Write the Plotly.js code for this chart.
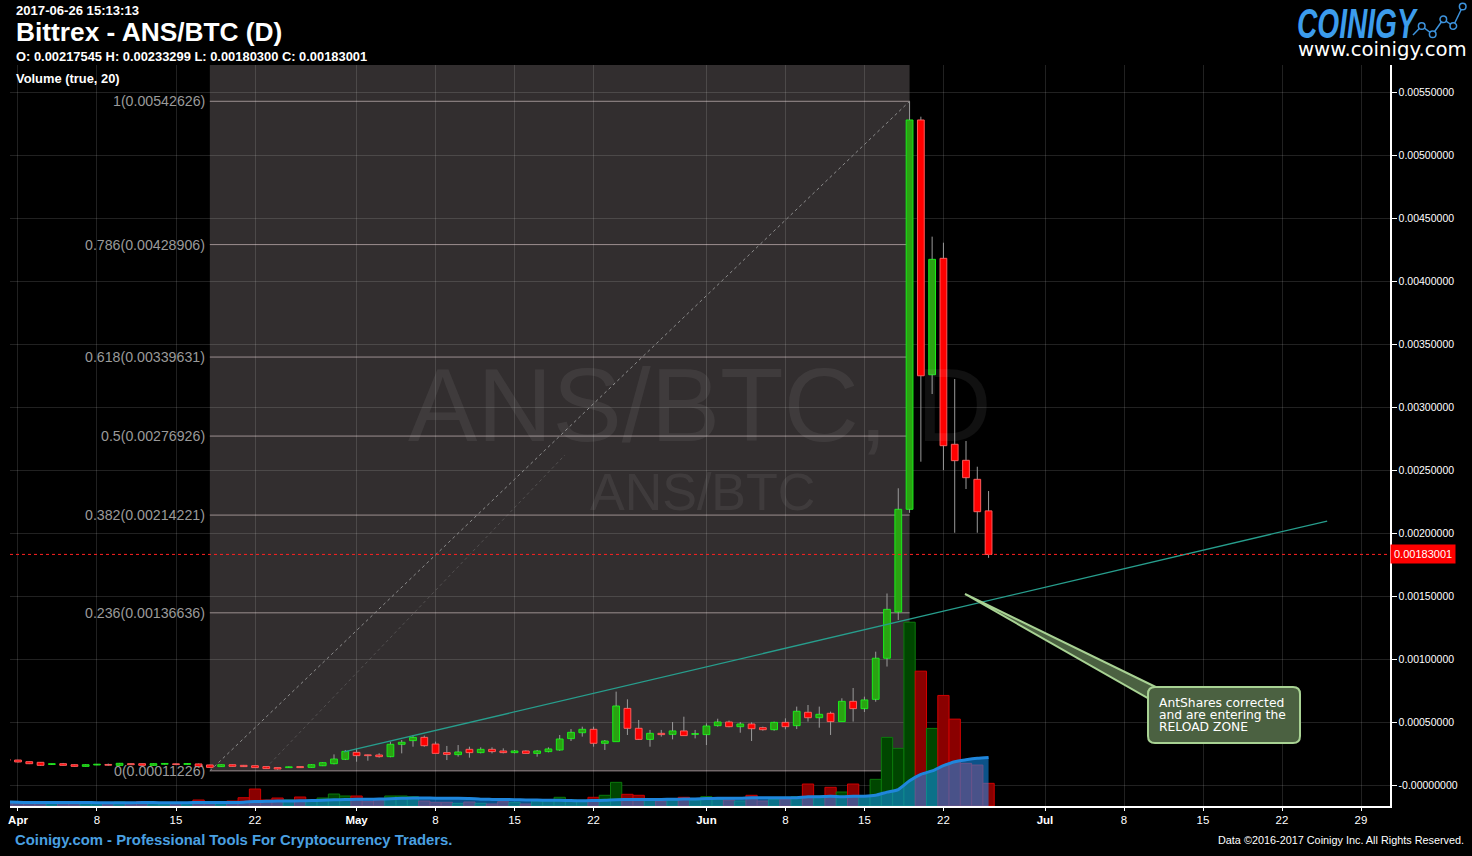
<!DOCTYPE html>
<html><head><meta charset="utf-8">
<script src="https://cdn.plot.ly/plotly-3.0.1.min.js"></script>
<style>html,body{margin:0;padding:0;background:#000;overflow:hidden}#chart{width:1472px;height:856px}</style>
</head><body><div id="chart"></div>
<script>
// ---------------- DATA ----------------
const dates = ['2017-03-31',
 '2017-04-01','2017-04-02','2017-04-03','2017-04-04','2017-04-05','2017-04-06','2017-04-07','2017-04-08','2017-04-09','2017-04-10',
 '2017-04-11','2017-04-12','2017-04-13','2017-04-14','2017-04-15','2017-04-16','2017-04-17','2017-04-18','2017-04-19','2017-04-20',
 '2017-04-21','2017-04-22','2017-04-23','2017-04-24','2017-04-25','2017-04-26','2017-04-27','2017-04-28','2017-04-29','2017-04-30',
 '2017-05-01','2017-05-02','2017-05-03','2017-05-04','2017-05-05','2017-05-06','2017-05-07','2017-05-08','2017-05-09','2017-05-10',
 '2017-05-11','2017-05-12','2017-05-13','2017-05-14','2017-05-15','2017-05-16','2017-05-17','2017-05-18','2017-05-19','2017-05-20',
 '2017-05-21','2017-05-22','2017-05-23','2017-05-24','2017-05-25','2017-05-26','2017-05-27','2017-05-28','2017-05-29','2017-05-30','2017-05-31',
 '2017-06-01','2017-06-02','2017-06-03','2017-06-04','2017-06-05','2017-06-06','2017-06-07','2017-06-08','2017-06-09','2017-06-10',
 '2017-06-11','2017-06-12','2017-06-13','2017-06-14','2017-06-15','2017-06-16','2017-06-17','2017-06-18','2017-06-19','2017-06-20',
 '2017-06-21','2017-06-22','2017-06-23','2017-06-24','2017-06-25','2017-06-26'];

const openP = [0.000204,
 0.000198,0.000185,0.000180,0.000163,0.000169,0.000161,0.000148,0.000159,0.000161,0.000156,
 0.000169,0.000169,0.000156,0.000165,0.000167,0.000164,0.000167,0.000159,0.000146,0.000161,
 0.000156,0.000153,0.000146,0.000138,0.000138,0.000146,0.000140,0.000153,0.000169,0.000204,
 0.000259,0.000238,0.000238,0.000225,0.000323,0.000352,0.000378,0.000325,0.000257,0.000241,
 0.000283,0.000257,0.000283,0.000270,0.000257,0.000270,0.000251,0.000265,0.000278,0.000368,
 0.000415,0.000442,0.000331,0.000344,0.000608,0.000450,0.000362,0.000410,0.000402,0.000429,0.000402,
 0.000400,0.000471,0.000500,0.000463,0.000484,0.000455,0.000439,0.000497,0.000471,0.000577,
 0.000534,0.000569,0.000503,0.000664,0.000606,0.000680,0.001006,0.001373,0.002188,0.005278,
 0.003256,0.004180,0.002704,0.002577,0.002426,0.00217545];

const highP = [0.000206,
 0.000200,0.000188,0.000182,0.000168,0.000175,0.000164,0.000164,0.000166,0.000170,0.000175,
 0.000172,0.000171,0.000171,0.000169,0.000170,0.000169,0.000170,0.000161,0.000164,0.000163,
 0.000159,0.000156,0.000148,0.000140,0.000146,0.000148,0.000164,0.000180,0.000243,0.000278,
 0.000291,0.000241,0.000252,0.000344,0.000357,0.000397,0.000392,0.000344,0.000310,0.000317,
 0.000304,0.000299,0.000299,0.000291,0.000278,0.000275,0.000278,0.000299,0.000397,0.000444,
 0.000463,0.000463,0.000357,0.000741,0.000680,0.000516,0.000437,0.000437,0.000500,0.000542,0.000437,
 0.000489,0.000526,0.000511,0.000500,0.000497,0.000463,0.000503,0.000529,0.000622,0.000635,
 0.000622,0.000582,0.000688,0.000770,0.000701,0.001058,0.001520,0.002355,0.005426,0.005304,
 0.004352,0.004304,0.003222,0.002730,0.002526,0.00233299];

const lowP = [0.000190,
 0.000178,0.000166,0.000152,0.000160,0.000153,0.000145,0.000146,0.000157,0.000153,0.000154,
 0.000158,0.000153,0.000154,0.000162,0.000158,0.000161,0.000143,0.000137,0.000143,0.000145,
 0.000143,0.000135,0.000127,0.000122,0.000135,0.000135,0.000138,0.000150,0.000164,0.000198,
 0.000185,0.000193,0.000217,0.000220,0.000251,0.000304,0.000304,0.000251,0.000198,0.000225,
 0.000217,0.000251,0.000251,0.000251,0.000251,0.000249,0.000225,0.000259,0.000272,0.000349,
 0.000384,0.000304,0.000278,0.000344,0.000397,0.000357,0.000304,0.000384,0.000362,0.000392,0.000370,
 0.000317,0.000463,0.000458,0.000415,0.000349,0.000431,0.000431,0.000442,0.000444,0.000503,
 0.000455,0.000397,0.000503,0.000503,0.000579,0.000661,0.000940,0.001310,0.002160,0.002566,
 0.003103,0.002500,0.002002,0.002349,0.002002,0.00180300];

const closeP = [0.000195,
 0.000183,0.000169,0.000156,0.000165,0.000156,0.000148,0.000161,0.000161,0.000157,0.000172,
 0.000161,0.000156,0.000169,0.000167,0.000162,0.000167,0.000146,0.000140,0.000161,0.000148,
 0.000146,0.000138,0.000130,0.000127,0.000143,0.000138,0.000161,0.000177,0.000206,0.000267,
 0.000233,0.000233,0.000225,0.000323,0.000339,0.000378,0.000312,0.000251,0.000243,0.000262,
 0.000257,0.000283,0.000265,0.000257,0.000270,0.000251,0.000270,0.000286,0.000365,0.000418,
 0.000442,0.000331,0.000349,0.000627,0.000450,0.000362,0.000410,0.000400,0.000429,0.000392,0.000405,
 0.000468,0.000500,0.000463,0.000484,0.000447,0.000439,0.000497,0.000463,0.000585,0.000534,
 0.000561,0.000503,0.000664,0.000606,0.000675,0.001006,0.001394,0.002188,0.005278,0.003248,
 0.004172,0.002693,0.002574,0.002439,0.002169,0.00183001];

const volume = [4,
 3.5,3,3.5,3,4,3.5,3,2.5,3,4,
 3,4.5,3,2.5,3,3.5,6,4,4,5,
 8.3,17,6,8,6,9,6,8,12,10,
 10,4.3,6,10,10,9.3,5,3.7,3.7,2.7,
 4,2.7,2,4.3,3.7,2,5,6,8.7,6,
 5,8.7,10.7,23.7,11.7,10.7,6,5,6,8.7,6,
 9.3,6.7,6,5,10.7,5,6.7,6.7,9.3,22,
 10,18.7,14,22,10,26.7,68.7,57.7,184,135,
 77.7,110.7,87,42.7,41,22.7];

const volMaPeriod = 20;

// Fibonacci retracement drawing
const fibStart = '2017-04-18';
const fibEnd = '2017-06-19';
const fibLow = 0.00011226;
const fibHigh = 0.00542626;
const fibRatios = [1, 0.786, 0.618, 0.5, 0.382, 0.236, 0];
const fibRatioLabels = ['1', '0.786', '0.618', '0.5', '0.382', '0.236', '0'];

// secondary faint fib diagonal
const fib2X = ['2017-04-22 23:00', '2017-05-19 11:00'];
const fib2Y = [0.000135, 0.002619];

// teal trend line
const trendX = ['2017-04-29 21:00', '2017-07-26 00:00'];
const trendY = [0.000262, 0.002095];

// last price
const lastPrice = 0.00183001;

// axes
const xRange = ['2017-03-31 07:00', '2017-07-31 13:40'];
const yRange = [-0.0001667, 0.0057143];
const yTicks = [0, 0.0005, 0.001, 0.0015, 0.002, 0.0025, 0.003, 0.0035, 0.004, 0.0045, 0.005, 0.0055];
const xTickVals = ['2017-04-01','2017-04-08','2017-04-15','2017-04-22','2017-05-01','2017-05-08','2017-05-15','2017-05-22',
  '2017-06-01','2017-06-08','2017-06-15','2017-06-22','2017-07-01','2017-07-08','2017-07-15','2017-07-22','2017-07-29'];
const xTickText = ['<b>Apr</b>','8','15','22','<b>May</b>','8','15','22','<b>Jun</b>','8','15','22','<b>Jul</b>','8','15','22','29'];

// ---------------- BUILD ----------------
const DAY = 86400000;
const n = dates.length;
const up = closeP.map((c, i) => c >= openP[i]);

// volume MA
const volMa = volume.map((v, i) => {
  const s = Math.max(0, i - volMaPeriod + 1);
  const w = volume.slice(s, i + 1);
  return w.reduce((a, b) => a + b, 0) / w.length;
});
const volTopFrac = 0.248;
const volMax = Math.max(...volume) / volTopFrac;

// wicks
const wx = [], wy = [];
for (let i = 0; i < n; i++) {
  const bl = Math.min(openP[i], closeP[i]), bh = Math.max(openP[i], closeP[i]);
  wx.push(dates[i], dates[i], null, dates[i], dates[i], null);
  wy.push(lowP[i], bl, null, bh, highP[i], null);
}
const minBody = 0.000006;
const bodyBase = openP.map((o, i) => Math.min(o, closeP[i]));
const bodyLen = openP.map((o, i) => Math.max(Math.abs(closeP[i] - o), minBody));

const traces = [
  { type: 'bar', x: dates, y: volume, yaxis: 'y', xaxis: 'x', width: DAY,
    marker: { color: up.map(u => u ? '#004600' : '#8a0000'),
              line: { color: up.map(u => u ? '#0b7a0b' : '#d00000'), width: 1 } },
    hoverinfo: 'skip' },
  { type: 'scatter', mode: 'lines', x: dates, y: volMa, yaxis: 'y', xaxis: 'x',
    fill: 'tozeroy', fillcolor: 'rgba(20,150,250,0.55)',
    line: { color: '#1f86dc', width: 3, shape: 'spline', smoothing: 0.6 }, hoverinfo: 'skip' },
  { type: 'scatter', mode: 'lines', x: wx, y: wy, yaxis: 'y2', xaxis: 'x',
    line: { color: '#9a9a9a', width: 1 }, hoverinfo: 'skip', connectgaps: false },
  { type: 'bar', x: dates, y: bodyLen, base: bodyBase, yaxis: 'y2', xaxis: 'x', width: DAY * 0.6,
    marker: { color: up.map(u => u ? '#2aa312' : '#ff0000'),
              line: { color: up.map(u => u ? '#19ee19' : '#ff5a5a'), width: 1 } },
    hoverinfo: 'skip' },
  { type: 'scatter', mode: 'lines', x: [fibStart, fibEnd], y: [fibLow, fibHigh], yaxis: 'y2', xaxis: 'x',
    line: { color: '#8c8c8c', width: 1, dash: 'dot' }, hoverinfo: 'skip' },
  { type: 'scatter', mode: 'lines', x: fib2X, y: fib2Y, yaxis: 'y2', xaxis: 'x',
    line: { color: 'rgba(140,140,140,0.35)', width: 1, dash: 'dot' }, hoverinfo: 'skip' },
  { type: 'scatter', mode: 'lines', x: trendX, y: trendY, yaxis: 'y2', xaxis: 'x',
    line: { color: '#279e8d', width: 1.3 }, hoverinfo: 'skip' }
];

// pixel -> paper helpers (plot area: x 10..1390, y 65..806)
const PL = 10, PR = 1390, PT = 65, PB = 806;
const px = v => (v - PL) / (PR - PL);
const py = v => (PB - v) / (PB - PT);

const shapes = [];
shapes.push({ type: 'rect', xref: 'x', yref: 'y2', x0: fibStart, x1: fibEnd, y0: fibLow, y1: yRange[1],
  fillcolor: '#322e2f', line: { width: 0 }, layer: 'below' });
const fibLevels = fibRatios.map(r => fibLow + r * (fibHigh - fibLow));
fibLevels.forEach(l => shapes.push({ type: 'line', xref: 'x', yref: 'y2', x0: fibStart, x1: fibEnd, y0: l, y1: l,
  line: { color: '#9c8f90', width: 1 }, layer: 'below' }));
shapes.push({ type: 'line', xref: 'paper', yref: 'y2', x0: 0, x1: 1, y0: lastPrice, y1: lastPrice,
  line: { color: '#ff2020', width: 1, dash: 'dot' } });

function pathFrom(pts) { return 'M' + pts.map(p => px(p[0]) + ',' + py(p[1])).join(' L') + ' Z'; }
shapes.push({ type: 'path', xref: 'paper', yref: 'paper',
  path: pathFrom([[965, 594], [1166, 692], [1153, 701]]),
  fillcolor: '#4b6141', line: { color: '#a8d293', width: 2 } });
function roundRect(x0, y0, x1, y1, r) {
  const P = (a, b) => px(a) + ',' + py(b);
  return 'M' + P(x0 + r, y0) + ' L' + P(x1 - r, y0) + ' Q' + P(x1, y0) + ' ' + P(x1, y0 + r) +
    ' L' + P(x1, y1 - r) + ' Q' + P(x1, y1) + ' ' + P(x1 - r, y1) +
    ' L' + P(x0 + r, y1) + ' Q' + P(x0, y1) + ' ' + P(x0, y1 - r) +
    ' L' + P(x0, y0 + r) + ' Q' + P(x0, y0) + ' ' + P(x0 + r, y0) + ' Z';
}
shapes.push({ type: 'path', xref: 'paper', yref: 'paper', path: roundRect(1148, 687, 1300, 743, 7),
  fillcolor: '#4b6141', line: { color: '#a8d293', width: 2 } });
shapes.push({ type: 'path', xref: 'paper', yref: 'paper', path: roundRect(1150, 689, 1298, 741, 6),
  fillcolor: '#4b6141', line: { width: 0 } });

const logoPts = [[1413, 35], [1421.7, 26], [1432.7, 34.3], [1443.3, 19.3], [1453.3, 26], [1462.7, 6.5]];
for (let i = 0; i < logoPts.length - 1; i++) {
  shapes.push({ type: 'line', xref: 'paper', yref: 'paper',
    x0: px(logoPts[i][0]), y0: py(logoPts[i][1]), x1: px(logoPts[i + 1][0]), y1: py(logoPts[i + 1][1]),
    line: { color: '#3d93dd', width: 1.5 } });
}
logoPts.slice(1).forEach(p => shapes.push({ type: 'circle', xref: 'paper', yref: 'paper',
  x0: px(p[0] - 3.3), x1: px(p[0] + 3.3), y0: py(p[1] + 3.3), y1: py(p[1] - 3.3),
  fillcolor: '#000', line: { color: '#3d93dd', width: 1.5 } }));

const fmt8 = v => v.toFixed(8);
const annotations = [];
fibLevels.forEach((l, i) => annotations.push({ xref: 'x', yref: 'y2', x: fibStart, y: l, xanchor: 'right', yanchor: 'middle',
  xshift: -3, showarrow: false, text: fibRatioLabels[i] + '(' + fmt8(l) + ')',
  font: { family: 'Liberation Sans, Arial, sans-serif', size: 14.2, color: '#9a9a9a' } }));

annotations.push({ xref: 'paper', yref: 'paper', x: px(700), y: py(405), xanchor: 'center', yanchor: 'middle', showarrow: false,
  text: 'ANS/BTC, D', font: { family: 'Liberation Sans, Arial, sans-serif', size: 104, color: 'rgba(255,255,255,0.065)' } });
annotations.push({ xref: 'paper', yref: 'paper', x: px(702), y: py(492), xanchor: 'center', yanchor: 'middle', showarrow: false,
  text: 'ANS/BTC', font: { family: 'Liberation Sans, Arial, sans-serif', size: 52, color: 'rgba(255,255,255,0.065)' } });

annotations.push({ xref: 'paper', yref: 'y2', x: 1, y: lastPrice, xanchor: 'left', yanchor: 'middle', showarrow: false,
  text: fmt8(lastPrice), bgcolor: '#ff0000', borderpad: 3, xshift: 0,
  font: { family: 'Liberation Sans, Arial, sans-serif', size: 11, color: '#ffffff' } });

const hdrFont = (s, c) => ({ family: 'Liberation Sans, Arial, sans-serif', size: s, color: c || '#ffffff' });
const txt = (x, y, text, font, anchor) => annotations.push({ xref: 'paper', yref: 'paper', x: px(x), y: py(y),
  xanchor: anchor || 'left', yanchor: 'middle', showarrow: false, text: text, font: font });
txt(14, 11, '<b>2017-06-26 15:13:13</b>', hdrFont(13.1));
txt(14, 32, '<b>Bittrex - ANS/BTC (D)</b>', hdrFont(26.3));
txt(14, 56, '<b>O: 0.00217545 H: 0.00233299 L: 0.00180300 C: 0.00183001</b>', hdrFont(12.9));
txt(14, 78, '<b>Volume (true, 20)</b>', hdrFont(12.9));
txt(1295, 17, '<b><i>COINIGY</i></b>', { family: 'Liberation Sans, Arial, sans-serif', size: 28, color: '#3c9cec' });
txt(1296, 49, 'www.coinigy.com', { family: 'DejaVu Sans, sans-serif', size: 19.7, color: '#ffffff' });
txt(13, 840, '<b>Coinigy.com - Professional Tools For Cryptocurrency Traders.</b>', hdrFont(14.85, '#4aa0e2'));
txt(1466, 840, 'Data \u00a92016-2017 Coinigy Inc. All Rights Reserved.', hdrFont(10.85), 'right');
['AntShares corrected', 'and are entering the', 'RELOAD ZONE'].forEach((t, i) =>
  txt(1157, 703 + i * 12, t, { family: 'DejaVu Sans, sans-serif', size: 12.3, color: '#ffffff' }));

const layout = {
  width: 1472, height: 856,
  margin: { l: PL, r: 1472 - PR, t: PT, b: 856 - PB, pad: 0 },
  paper_bgcolor: '#000000', plot_bgcolor: '#000000',
  showlegend: false, hovermode: false, barmode: 'overlay', bargap: 0,
  xaxis: { type: 'date', range: xRange, tickmode: 'array', tickvals: xTickVals, ticktext: xTickText,
    showgrid: true, gridcolor: 'rgba(255,255,255,0.13)', gridwidth: 1,
    showline: true, linecolor: '#ffffff', linewidth: 1.5, ticks: 'outside', ticklen: 3, tickcolor: '#ffffff',
    tickfont: { family: 'Liberation Sans, Arial, sans-serif', size: 11.5, color: '#ffffff' },
    zeroline: false, fixedrange: true, anchor: 'y2' },
  yaxis: { range: [0, volMax], visible: false, showgrid: false, zeroline: false, fixedrange: true },
  yaxis2: { overlaying: 'y', side: 'right', range: yRange, tickmode: 'array', tickvals: yTicks,
    ticktext: yTicks.map(v => v === 0 ? '-0.00000000' : fmt8(v)),
    showgrid: true, gridcolor: 'rgba(255,255,255,0.13)', gridwidth: 1,
    showline: true, linecolor: '#ffffff', linewidth: 1.5, ticks: 'outside', ticklen: 5, tickcolor: '#ffffff',
    tickfont: { family: 'Liberation Sans, Arial, sans-serif', size: 10.5, color: '#ffffff' },
    zeroline: false, fixedrange: true },
  shapes: shapes,
  annotations: annotations
};

Plotly.newPlot('chart', traces, layout, { displayModeBar: false, staticPlot: true }).then(() => {
  // reshape the logo word to the tall, condensed logotype: 121px wide, baseline at y=38, caps ~30px tall
  document.querySelectorAll('.annotation-text').forEach(t => {
    if (t.textContent === 'COINIGY') {
      const bb = t.getBBox();
      const r = t.getBoundingClientRect();
      const sx = 121 / bb.width;
      const sy = 30 / (0.716 * 28);
      const baseLocal = bb.y + 0.81 * bb.height;
      const basePage = r.top + 0.81 * r.height;
      const dy = 38 - basePage;
      t.setAttribute('transform', 'translate(0,' + dy + ') translate(' + bb.x + ',' + baseLocal + ') scale(' + sx + ',' + sy + ') translate(' + (-bb.x) + ',' + (-baseLocal) + ')');
    }
  });
});
</script>
</body></html>
